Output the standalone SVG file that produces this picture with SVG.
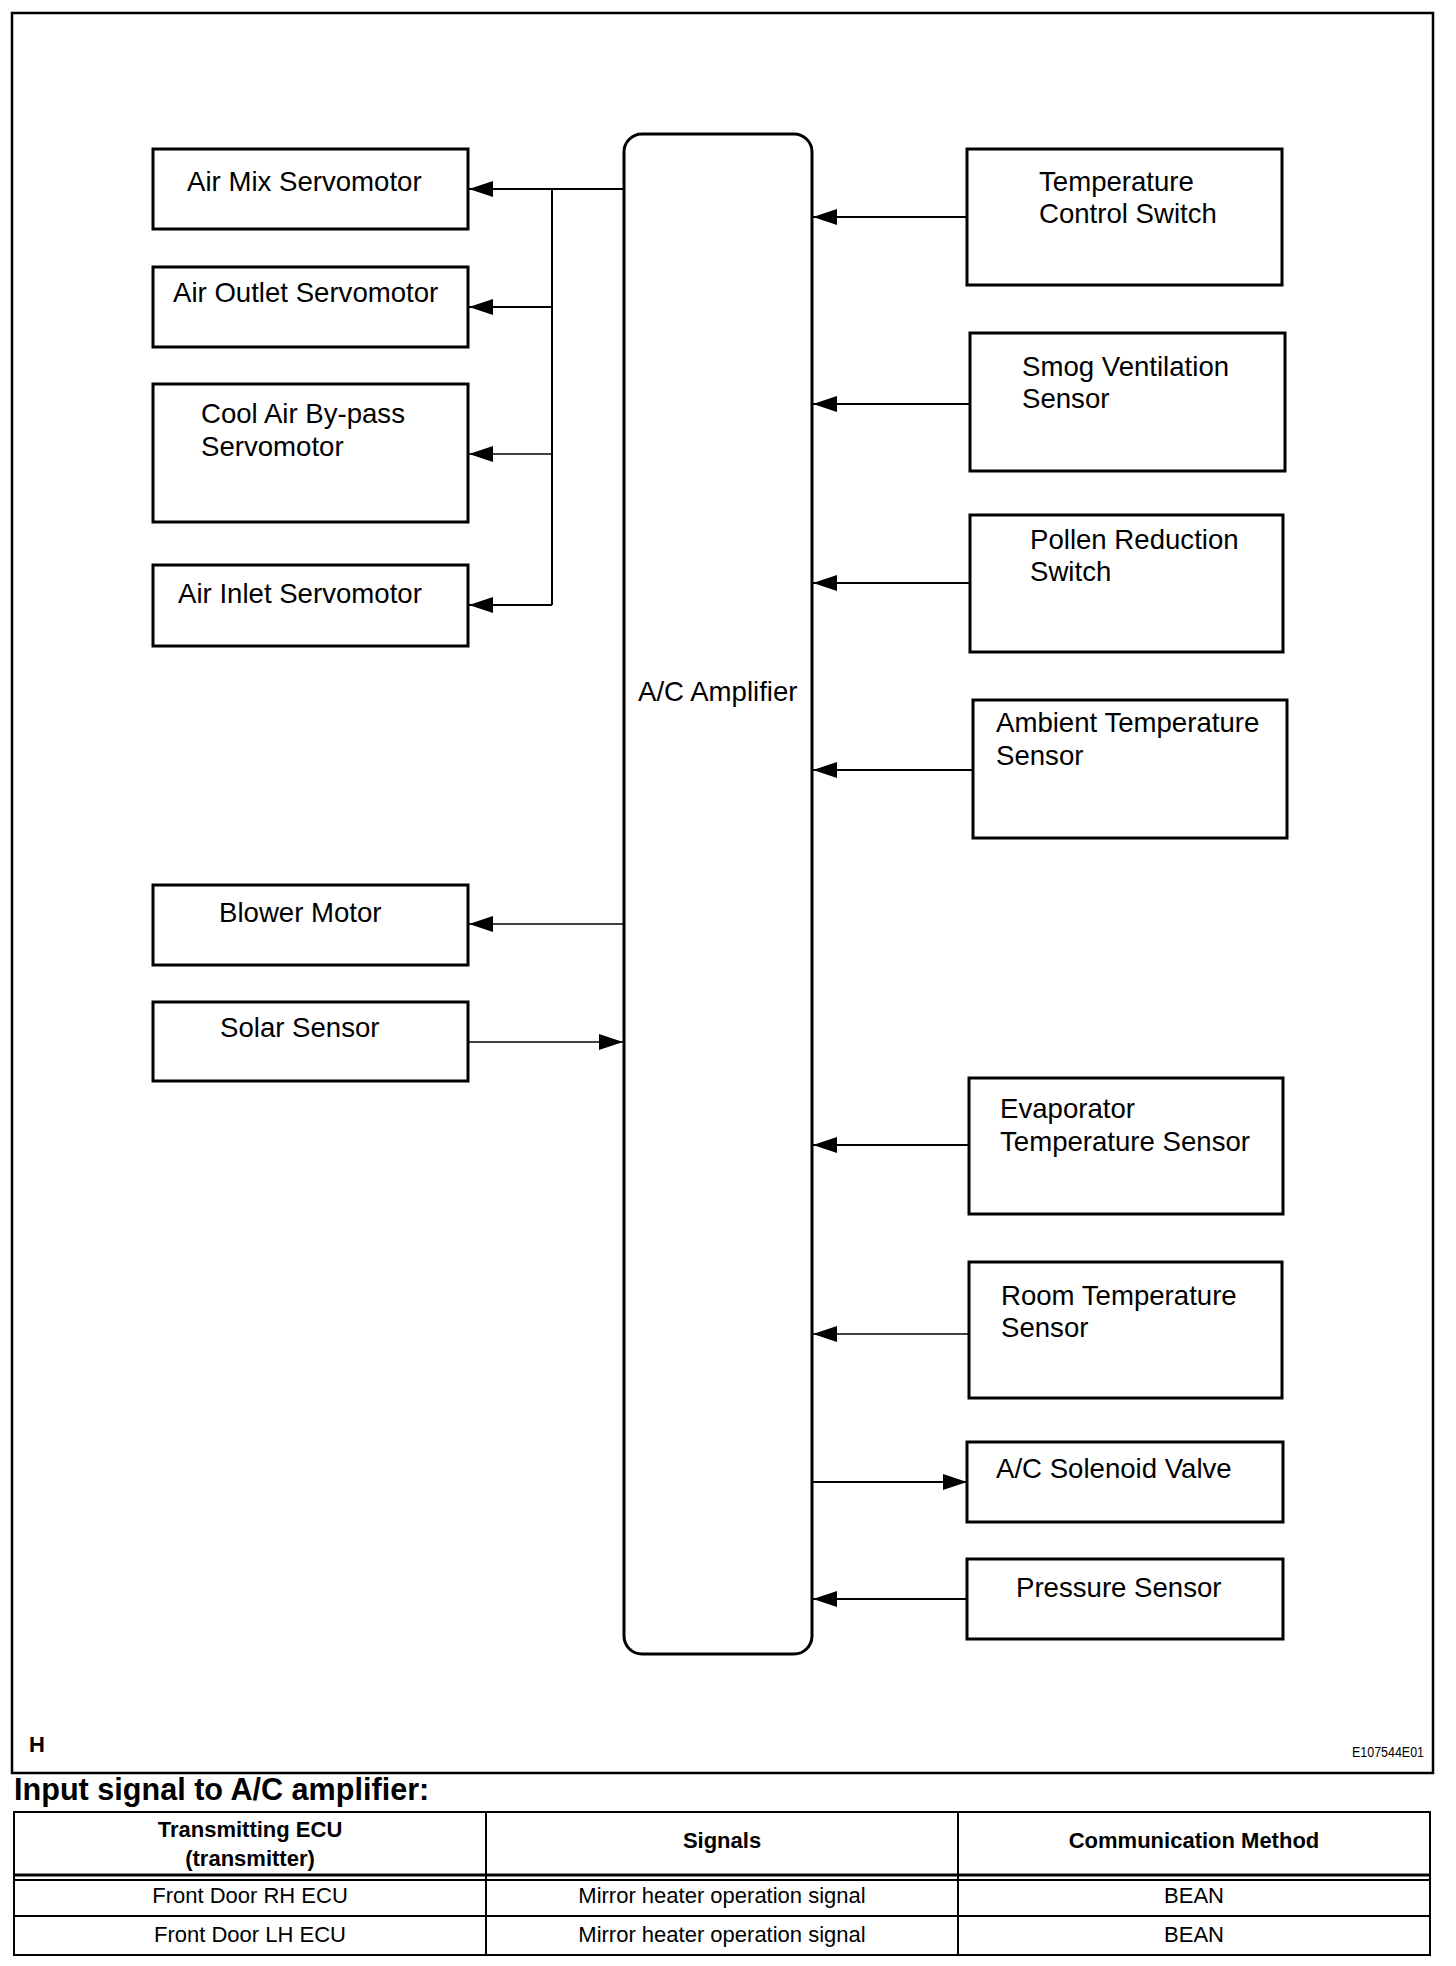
<svg xmlns="http://www.w3.org/2000/svg" width="1456" height="1966" viewBox="0 0 1456 1966">
<style>
.box{fill:#fff;stroke:#000;stroke-width:3}
.t{font-family:"Liberation Sans",Arial,sans-serif;font-size:27.6px;fill:#000}
.c{fill:none;stroke:#000;stroke-width:2}
.c1{fill:none;stroke:#000;stroke-width:1.4}
.tb{font-family:"Liberation Sans",Arial,sans-serif;font-size:22px;fill:#000;text-anchor:middle}
.tl{fill:none;stroke:#000;stroke-width:2}
</style>
<defs>
<marker id="ah" markerUnits="userSpaceOnUse" markerWidth="24" markerHeight="16" refX="24" refY="8" orient="auto">
<path d="M0,0 L24,8 L0,16 Z" fill="#000"/>
</marker>
</defs>
<rect width="1456" height="1966" fill="#fff"/>
<rect x="12" y="13" width="1421" height="1760" fill="none" stroke="#000" stroke-width="2.5"/>

<g id="connectors">
<path class="c" d="M624,189 H469" marker-end="url(#ah)"/>
<path class="c" d="M552,189 V605"/>
<path class="c" d="M552,307 H469" marker-end="url(#ah)"/>
<path class="c1" d="M552,454 H469" marker-end="url(#ah)"/>
<path class="c" d="M552,605 H469" marker-end="url(#ah)"/>
<path class="c1" d="M624,924 H469" marker-end="url(#ah)"/>
<path class="c1" d="M468,1042 H623" marker-end="url(#ah)"/>
<path class="c" d="M967,217 H813" marker-end="url(#ah)"/>
<path class="c" d="M970,404 H813" marker-end="url(#ah)"/>
<path class="c" d="M970,583 H813" marker-end="url(#ah)"/>
<path class="c" d="M973,770 H813" marker-end="url(#ah)"/>
<path class="c" d="M969,1145 H813" marker-end="url(#ah)"/>
<path class="c1" d="M969,1334 H813" marker-end="url(#ah)"/>
<path class="c" d="M812,1482 H967" marker-end="url(#ah)"/>
<path class="c" d="M967,1599 H813" marker-end="url(#ah)"/>
</g>

<g id="amp">
<rect class="box" x="624" y="134" width="188" height="1520" rx="18" ry="18" fill="none"/>
<text class="t" x="638" y="701">A/C Amplifier</text>
</g>

<g id="air-mix"><rect class="box" x="153" y="149" width="315" height="80"/><text class="t" x="187" y="191">Air Mix Servomotor</text></g>
<g id="air-outlet"><rect class="box" x="153" y="267" width="315" height="80"/><text class="t" x="173" y="302">Air Outlet Servomotor</text></g>
<g id="cool-air"><rect class="box" x="153" y="384" width="315" height="138"/><text class="t" x="201" y="423">Cool Air By-pass</text><text class="t" x="201" y="456">Servomotor</text></g>
<g id="air-inlet"><rect class="box" x="153" y="565" width="315" height="81"/><text class="t" x="178" y="603">Air Inlet Servomotor</text></g>
<g id="blower"><rect class="box" x="153" y="885" width="315" height="80"/><text class="t" x="219" y="922">Blower Motor</text></g>
<g id="solar"><rect class="box" x="153" y="1002" width="315" height="79"/><text class="t" x="220" y="1037">Solar Sensor</text></g>

<g id="temp-switch"><rect class="box" x="967" y="149" width="315" height="136"/><text class="t" x="1039" y="191">Temperature</text><text class="t" x="1039" y="223">Control Switch</text></g>
<g id="smog"><rect class="box" x="970" y="333" width="315" height="138"/><text class="t" x="1022" y="376">Smog Ventilation</text><text class="t" x="1022" y="408">Sensor</text></g>
<g id="pollen"><rect class="box" x="970" y="515" width="313" height="137"/><text class="t" x="1030" y="549">Pollen Reduction</text><text class="t" x="1030" y="581">Switch</text></g>
<g id="ambient"><rect class="box" x="973" y="700" width="314" height="138"/><text class="t" x="996" y="732">Ambient Temperature</text><text class="t" x="996" y="765">Sensor</text></g>
<g id="evaporator"><rect class="box" x="969" y="1078" width="314" height="136"/><text class="t" x="1000" y="1118">Evaporator</text><text class="t" x="1000" y="1151">Temperature Sensor</text></g>
<g id="room"><rect class="box" x="969" y="1262" width="313" height="136"/><text class="t" x="1001" y="1305">Room Temperature</text><text class="t" x="1001" y="1337">Sensor</text></g>
<g id="solenoid"><rect class="box" x="967" y="1442" width="316" height="80"/><text class="t" x="996" y="1478">A/C Solenoid Valve</text></g>
<g id="pressure"><rect class="box" x="967" y="1559" width="316" height="80"/><text class="t" x="1016" y="1597">Pressure Sensor</text></g>

<text x="29" y="1752" font-family="Liberation Sans,Arial,sans-serif" font-size="22" font-weight="bold">H</text>
<text x="1352" y="1757" font-family="Liberation Sans,Arial,sans-serif" font-size="15" textLength="72" lengthAdjust="spacingAndGlyphs">E107544E01</text>

<text x="14" y="1800" font-family="Liberation Sans,Arial,sans-serif" font-size="30.6" font-weight="bold">Input signal to A/C amplifier:</text>

<g id="table">
<rect class="tl" x="14" y="1812" width="1416" height="143"/>
<line x1="14" y1="1875" x2="1430" y2="1875" stroke="#000" stroke-width="3"/>
<line x1="14" y1="1880" x2="1430" y2="1880" stroke="#000" stroke-width="2"/>
<line class="tl" x1="14" y1="1916" x2="1430" y2="1916"/>
<line class="tl" x1="486" y1="1812" x2="486" y2="1955"/>
<line class="tl" x1="958" y1="1812" x2="958" y2="1955"/>
<text class="tb" x="250" y="1837" font-weight="bold">Transmitting ECU</text>
<text class="tb" x="250" y="1866" font-weight="bold">(transmitter)</text>
<text class="tb" x="722" y="1848" font-weight="bold">Signals</text>
<text class="tb" x="1194" y="1848" font-weight="bold">Communication Method</text>
<text class="tb" x="250" y="1903">Front Door RH ECU</text>
<text class="tb" x="722" y="1903">Mirror heater operation signal</text>
<text class="tb" x="1194" y="1903">BEAN</text>
<text class="tb" x="250" y="1942">Front Door LH ECU</text>
<text class="tb" x="722" y="1942">Mirror heater operation signal</text>
<text class="tb" x="1194" y="1942">BEAN</text>
</g>
</svg>
